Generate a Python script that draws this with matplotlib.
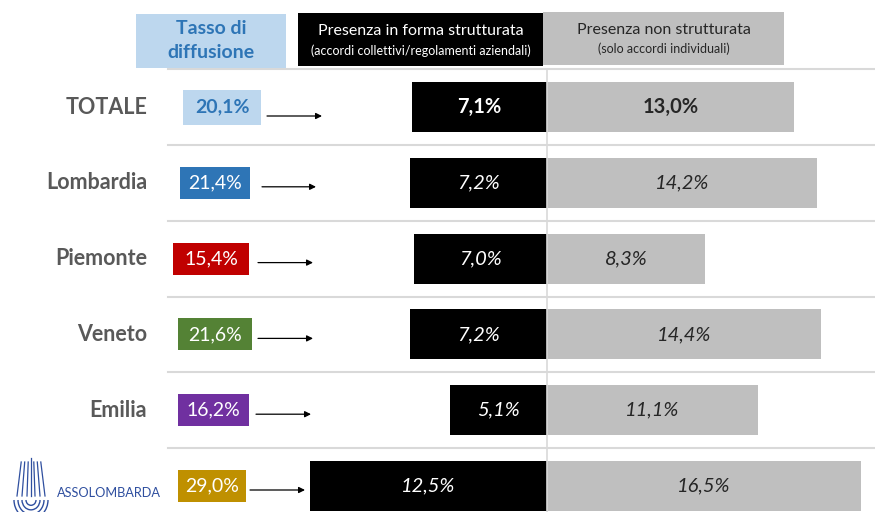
import matplotlib
matplotlib.use("Agg")
import matplotlib.pyplot as plt
from matplotlib.patches import Rectangle, Arc

plt.rcParams['font.family'] = ['Lato', 'DejaVu Sans']

# ---- data ----
regions = ["TOTALE", "Lombardia", "Piemonte", "Veneto", "Emilia", ""]
diffusion = [20.1, 21.4, 15.4, 21.6, 16.2, 29.0]
structured = [7.1, 7.2, 7.0, 7.2, 5.1, 12.5]
non_structured = [13.0, 14.2, 8.3, 14.4, 11.1, 16.5]
box_colors = ["#BDD7EE", "#2E75B6", "#C00000", "#548235", "#7030A0", "#BF9000"]
box_text_colors = ["#2E75B6", "white", "white", "white", "white", "white"]

def fmt(v):
    return f"{v:.1f}%".replace(".", ",")

W, H = 875, 512
fig = plt.figure(figsize=(W / 100, H / 100), dpi=100)

PX_PER_PCT = 19.0
CENTER_PX = 547
ROW0_PX = 107
ROW_PX = 75.8
ylim = ((H - ROW0_PX) / ROW_PX, -ROW0_PX / ROW_PX)

# data axes (x in percent, y in rows)
ax = fig.add_axes([0, 0, 1, 1])
ax.set_xlim(-CENTER_PX / PX_PER_PCT, (W - CENTER_PX) / PX_PER_PCT)
ax.set_ylim(*ylim)
ax.axis("off")

# pixel-x overlay axes (x in pixels, y in rows)
pax = fig.add_axes([0, 0, 1, 1], sharey=ax)
pax.set_xlim(0, W)
pax.axis("off")
pax.set_zorder(ax.get_zorder() + 1)
pax.patch.set_visible(False)

def r(px):
    return (px - ROW0_PX) / ROW_PX

n = len(regions)
ys = list(range(n))

# separators
for i in ys:
    pax.plot([168, W], [i - 0.5, i - 0.5], color="#D9D9D9", lw=1.5, zorder=0)
pax.plot([CENTER_PX, CENTER_PX], [-0.5, ylim[0]], color="#D9D9D9", lw=1.2, zorder=0)

# bars
bh = 50 / ROW_PX
ax.barh(ys, [-v for v in structured], height=bh, color="black", zorder=2)
ax.barh(ys, non_structured, height=bh, color="#BFBFBF", zorder=2)

for i in ys:
    bold = (i == 0)
    style = "normal" if bold else "italic"
    weight = "bold" if bold else "normal"
    ax.text(-structured[i] / 2, i, fmt(structured[i]), color="white", ha="center",
            va="center", fontsize=14.5, fontstyle=style, fontweight=weight, zorder=3)
    ax.text(non_structured[i] / 2, i, fmt(non_structured[i]), color="#262626", ha="center",
            va="center", fontsize=14.5, fontstyle=style, fontweight=weight, zorder=3)

# row labels
for i, name in enumerate(regions):
    if name:
        pax.text(147, i, name, ha="right", va="center", fontsize=15.5,
                 fontweight="bold", color="#595959")

# diffusion boxes and arrows
box_x = [183, 180, 173, 178, 178, 178]
box_w = [78, 70, 76, 74, 71, 68]
arrow_x0 = [267, 262, 258, 258, 256, 250]
arrow_x1 = [322, 316, 313, 313, 311, 305]
for i in ys:
    hh = (35 if i == 0 else 32) / ROW_PX
    pax.add_patch(Rectangle((box_x[i], i - hh / 2), box_w[i], hh,
                            facecolor=box_colors[i], edgecolor="none", zorder=2))
    pax.text(box_x[i] + box_w[i] / 2, i, fmt(diffusion[i]), ha="center", va="center",
             fontsize=14, color=box_text_colors[i],
             fontweight="bold" if i == 0 else "normal", zorder=3)
    ya = i + (9 if i == 0 else 4) / ROW_PX
    pax.annotate("", xy=(arrow_x1[i], ya), xytext=(arrow_x0[i], ya),
                 arrowprops=dict(arrowstyle="-|>", color="black", lw=0.9,
                                 mutation_scale=9, shrinkA=0, shrinkB=0))

# header
pax.add_patch(Rectangle((136, r(14)), 150, r(68) - r(14), facecolor="#BDD7EE",
                        edgecolor="none"))
pax.text(211, r(29), "Tasso di", ha="center", va="center", fontsize=14,
         fontweight="bold", color="#2E75B6")
pax.text(211, r(53), "diffusione", ha="center", va="center", fontsize=14,
         fontweight="bold", color="#2E75B6")
pax.add_patch(Rectangle((298, r(13)), 245, r(66) - r(13), facecolor="black",
                        edgecolor="none"))
pax.text(421, r(31), "Presenza in forma strutturata", ha="center", va="center",
         fontsize=11.5, color="white")
pax.text(421, r(51), "(accordi collettivi/regolamenti aziendali)", ha="center",
         va="center", fontsize=9, color="white")
pax.add_patch(Rectangle((543, r(12)), 241, r(65) - r(12), facecolor="#BFBFBF",
                        edgecolor="none"))
pax.text(664, r(30), "Presenza non strutturata", ha="center", va="center",
         fontsize=11.5, color="#262626")
pax.text(664, r(49), "(solo accordi individuali)", ha="center", va="center",
         fontsize=9, color="#262626")

# logo (simplified)
logo_c = "#2F4F9F"
pax.text(57, 5 + 7 / ROW_PX, "ASSOLOMBARDA", ha="left", va="center",
         fontsize=9.2, color=logo_c)
for k, (w, h) in enumerate([(34, 0.5), (26, 0.38), (18, 0.26), (10, 0.14)]):
    pax.add_patch(Arc((31, r(500)), w, h, theta1=0, theta2=180, color=logo_c, lw=1.0))
for dx in [-14, -9, -4, 4, 9, 14]:
    pax.plot([31 + dx * 0.7, 31 + dx], [r(462), r(496)], color=logo_c, lw=0.9)
pax.plot([31, 31], [r(458), r(496)], color=logo_c, lw=0.9)

fig.savefig("out.png", dpi=100)
